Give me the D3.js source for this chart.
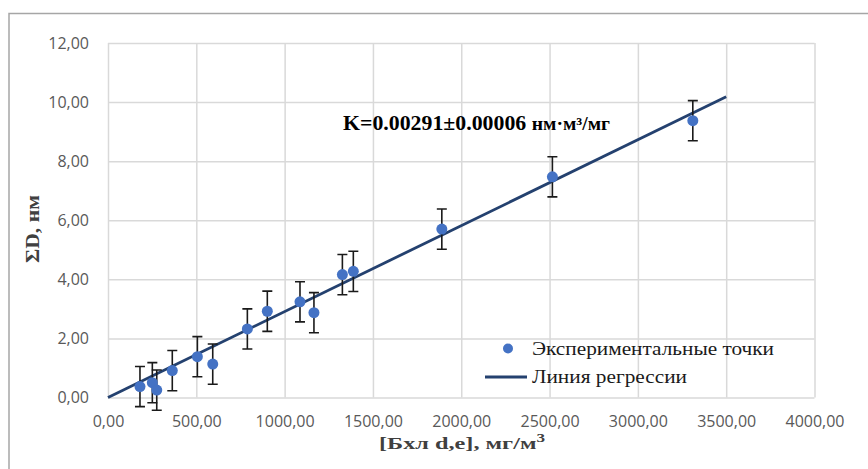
<!DOCTYPE html>
<html>
<head>
<meta charset="utf-8">
<script src="https://cdn.jsdelivr.net/npm/d3@7"></script>
<style>
  body { margin: 0; background: #fff; }
  svg { display: block; }
  .serif { font-family: "Liberation Serif", "Times New Roman", serif; }
</style>
</head>
<body>
<svg id="chart" width="868" height="469"></svg>
<script>
// experimental points: concentration (mg/m3) and sum of D (nm)
var concentration = [181, 251, 276, 364, 506, 593, 789, 902, 1087, 1166, 1327, 1389, 1890, 2516, 3311];
var sumD = [0.37, 0.50, 0.25, 0.91, 1.38, 1.13, 2.32, 2.92, 3.24, 2.87, 4.16, 4.27, 5.70, 7.47, 9.37];
var errors = [0.68, 0.68, 0.68, 0.68, 0.68, 0.68, 0.68, 0.68, 0.68, 0.68, 0.68, 0.68, 0.68, 0.68, 0.68];

// regression line ends
var regressionX = [0, 3500];
var regressionY = [0, 10.18];

var xTicks = [0, 500, 1000, 1500, 2000, 2500, 3000, 3500, 4000];
var yTicks = [0, 2, 4, 6, 8, 10, 12];

var svg = d3.select("#chart");

var x = d3.scaleLinear().domain([0, 4000]).range([108, 814.5]);
var y = d3.scaleLinear().domain([0, 12]).range([397.5, 43]);

var fmt = function (d) { return d3.format(".2f")(d).replace(".", ","); };

// outer chart border (runs off the picture on right and bottom)
svg.append("rect")
    .attr("x", 9).attr("y", 13.5)
    .attr("width", 900).attr("height", 500)
    .attr("fill", "none")
    .attr("stroke", "#a6a6a6")
    .attr("stroke-width", 1.5);

var xAxis = svg.append("g")
    .attr("transform", "translate(0," + y(0) + ")")
    .call(d3.axisBottom(x)
        .tickValues(xTicks)
        .tickSize(-(y(0) - y(12)))
        .tickPadding(18.5)
        .tickFormat(fmt));

var yAxis = svg.append("g")
    .attr("transform", "translate(" + x(0) + ",0)")
    .call(d3.axisLeft(y)
        .tickValues(yTicks)
        .tickSize(-(x(4000) - x(0)))
        .tickPadding(19)
        .tickFormat(fmt));

[xAxis, yAxis].forEach(function (g) {
    g.select(".domain").remove();
    g.selectAll(".tick line")
        .attr("stroke", "#d9d9d9")
        .attr("stroke-width", 1.5);
    g.selectAll(".tick text")
        .attr("fill", "#595959")
        .style("font-family", "'Open Sans', sans-serif")
        .style("font-size", "16px");
});

// regression line
var line = d3.line()
    .x(function (d) { return x(d[0]); })
    .y(function (d) { return y(d[1]); });

svg.append("path")
    .datum(d3.zip(regressionX, regressionY))
    .attr("d", line)
    .attr("fill", "none")
    .attr("stroke", "#24416f")
    .attr("stroke-width", 2.8);

var pts = d3.range(concentration.length).map(function (i) {
    return {x: concentration[i], y: sumD[i], e: errors[i]};
});

// error bars
var bars = svg.append("g")
    .attr("stroke", "#1a1a1a")
    .attr("stroke-width", 1.6)
    .attr("fill", "none");

bars.selectAll("path")
    .data(pts)
    .enter()
    .append("path")
    .attr("d", function (d) {
        var cx = x(d.x), t = y(d.y + d.e), b = y(d.y - d.e), w = 5;
        return "M" + (cx - w) + "," + t + "H" + (cx + w) +
            "M" + cx + "," + t + "V" + b +
            "M" + (cx - w) + "," + b + "H" + (cx + w);
    });

// points
svg.append("g")
    .selectAll("circle")
    .data(pts)
    .enter()
    .append("circle")
    .attr("cx", function (d) { return x(d.x); })
    .attr("cy", function (d) { return y(d.y); })
    .attr("r", 5.5)
    .attr("fill", "#4472c4");

// annotation
var note = svg.append("text")
    .attr("class", "serif")
    .attr("x", 343)
    .attr("y", 129.5)
    .attr("fill", "#000")
    .attr("textLength", 267)
    .attr("lengthAdjust", "spacingAndGlyphs")
    .style("font-weight", "bold")
    .style("font-size", "20px");
note.append("tspan").text("K=0.00291±0.00006 ");
note.append("tspan").style("font-size", "18px").text("нм·м³/мг");

// legend
var legend = svg.append("g")
    .attr("class", "serif")
    .style("font-size", "18px")
    .attr("fill", "#1a1a1a");

legend.append("circle")
    .attr("cx", 508).attr("cy", 348.5).attr("r", 5)
    .attr("fill", "#4472c4");
legend.append("text")
    .attr("class", "serif")
    .attr("x", 532).attr("y", 354.5)
    .attr("textLength", 242)
    .attr("lengthAdjust", "spacingAndGlyphs")
    .text("Экспериментальные точки");

legend.append("line")
    .attr("x1", 485).attr("x2", 527)
    .attr("y1", 377).attr("y2", 377)
    .attr("stroke", "#24416f")
    .attr("stroke-width", 2.8);
legend.append("text")
    .attr("class", "serif")
    .attr("x", 532).attr("y", 383)
    .attr("textLength", 155)
    .attr("lengthAdjust", "spacingAndGlyphs")
    .text("Линия регрессии");

// axis titles
var xTitle = svg.append("text")
    .attr("class", "serif")
    .attr("x", 379)
    .attr("y", 449)
    .attr("fill", "#404040")
    .attr("textLength", 166)
    .attr("lengthAdjust", "spacingAndGlyphs")
    .style("font-weight", "bold")
    .style("font-size", "17px");
xTitle.append("tspan").text("[Бхл d,e],  мг/м");
xTitle.append("tspan").attr("dy", -7).style("font-size", "12px").text("3");

svg.append("text")
    .attr("class", "serif")
    .attr("transform", "translate(39," + 229 + ") rotate(-90)")
    .attr("text-anchor", "middle")
    .attr("fill", "#404040")
    .attr("textLength", 68)
    .attr("lengthAdjust", "spacingAndGlyphs")
    .style("font-weight", "bold")
    .style("font-size", "18px")
    .text("ΣD, нм");
</script>
</body>
</html>
